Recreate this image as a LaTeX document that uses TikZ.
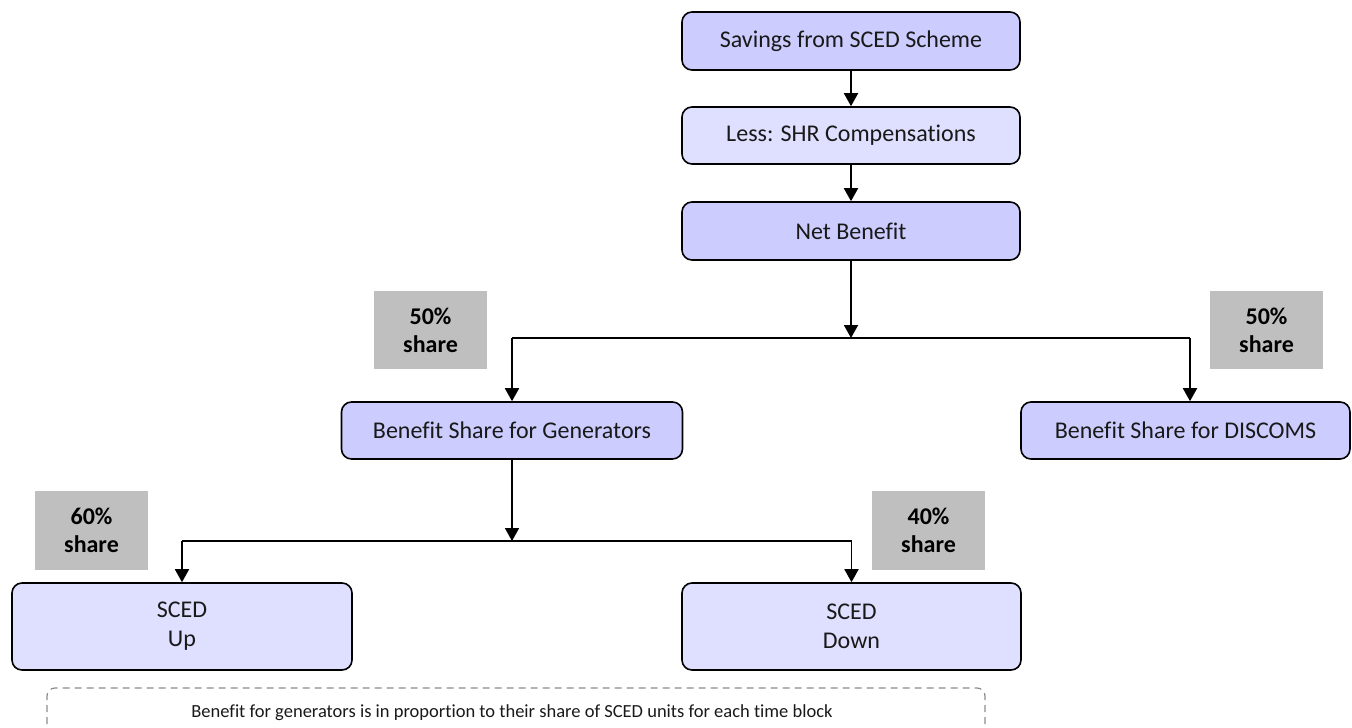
\documentclass[tikz,border=0pt]{standalone}
\usepackage{fontspec}
\setmainfont{Carlito}[Ligatures=NoCommon]
\usetikzlibrary{arrows.meta}
\definecolor{boxdark}{HTML}{CCCCFF}
\definecolor{boxlight}{HTML}{DFDFFF}
\definecolor{sharegray}{HTML}{BFBFBF}
\definecolor{dashgray}{HTML}{8C8C8C}
\tikzset{
  flowbox/.style={draw=black, line width=1.6pt, rounded corners=10pt, inner sep=0pt,
    align=center, font=\fontsize{24}{29}\selectfont, text=black!90},
  darkbox/.style={flowbox, fill=boxdark},
  lightbox/.style={flowbox, fill=boxlight},
  sharebox/.style={fill=sharegray, inner sep=0pt, minimum width=113pt, minimum height=78pt,
    align=center, font=\fontsize{24}{28}\selectfont\bfseries},
  conn/.style={line width=1.8pt, draw=black},
  arr/.style={conn, -{Triangle[width=14pt,length=13pt]}},
}
\begin{document}
\begin{tikzpicture}[x=1pt,y=-1pt]
\useasboundingbox (0,0) rectangle (1352,728);
\clip (0,0) rectangle (1352,728);
% main boxes
\node[darkbox, minimum width=338pt, minimum height=58pt] (sav) at (851,41) {Savings from SCED Scheme};
\node[lightbox, minimum width=338pt, minimum height=57pt] (less) at (851,135.5) {Less: SHR Compensations};
\node[darkbox, minimum width=338pt, minimum height=58pt] (net) at (851,231) {Net Benefit};
\node[darkbox, minimum width=341pt, minimum height=57pt] (gen) at (512,430.5) {Benefit Share for Generators};
\node[darkbox, minimum width=329pt, minimum height=57pt] (disc) at (1185.5,430.5) {Benefit Share for DISCOMS};
\node[lightbox, minimum width=340pt, minimum height=87pt] (up) at (182,626.5) {SCED\\Up};
\node[lightbox, minimum width=339pt, minimum height=87pt] (down) at (851.5,626.5) {SCED\\Down};
% share labels
\node[sharebox] (s1) at (430.5,330) {50\%\\share};
\node[sharebox] (s2) at (1266.5,330) {50\%\\share};
\node[sharebox, minimum height=79pt] (s3) at (91.5,530.5) {60\%\\share};
\node[sharebox, minimum height=79pt] (s4) at (928.5,530.5) {40\%\\share};
% connectors
\draw[arr] (sav) -- (less);
\draw[arr] (less) -- (net);
\coordinate (j1) at (851,338);
\coordinate (jL) at (512,338);
\coordinate (jR) at (1190,338);
\draw[arr] (net) -- (j1);
\draw[conn] (jL) -- (jR);
\draw[arr] (jL) -- (gen.north);
\draw[arr] (jR) -- (jR |- disc.north);
\coordinate (j2) at (512,541);
\coordinate (kL) at (182,541);
\coordinate (kR) at (851.5,541);
\draw[arr] (gen) -- (j2);
\draw[conn] (kL) -- (kR);
\draw[arr] (kL) -- (up.north);
\draw[arr] (kR) -- (down.north);
% footer note
\draw[dashgray, line width=1.2pt, dash pattern=on 7pt off 5pt, rounded corners=8pt]
  (47,760) -- (47,688) -- (985,688) -- (985,760);
\node[font=\fontsize{18.5}{22}\selectfont, text=black!90] (note) at (512,712.5)
  {Benefit for generators is in proportion to their share of SCED units for each time block};
\end{tikzpicture}
\end{document}
